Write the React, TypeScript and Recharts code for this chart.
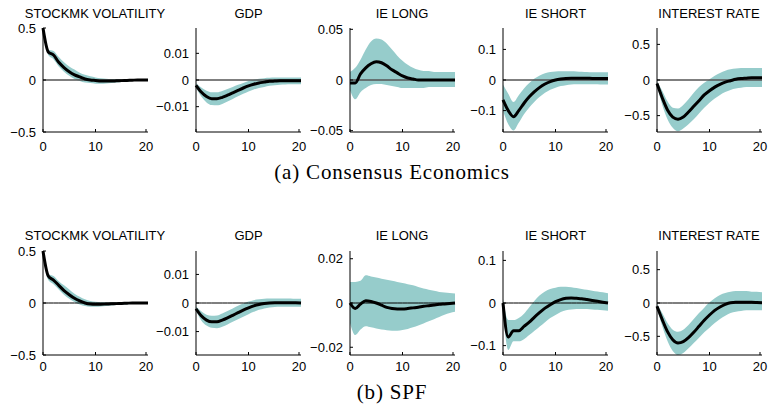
import { ComposedChart, Area, Line, XAxis, YAxis } from 'recharts';

const horizons = [0, 1, 2, 3, 4, 5, 6, 7, 8, 9, 10, 11, 12, 13, 14, 15, 16, 17, 18, 19, 20];
const titles = ['STOCKMK VOLATILITY', 'GDP', 'IE LONG', 'IE SHORT', 'INTEREST RATE'];
const xTicks = [0, 10, 20];

// (a) Consensus Economics
const ceVolMid = [0.5, 0.27, 0.24, 0.17, 0.12, 0.08, 0.05, 0.03, 0.01, 0.0, -0.005, -0.01, -0.01, -0.01, -0.008, -0.006, -0.004, -0.002, 0.0, 0.0, 0.0];
const ceVolLo = [0.5, 0.24, 0.2, 0.13, 0.08, 0.04, 0.01, -0.01, -0.025, -0.03, -0.035, -0.035, -0.033, -0.03, -0.025, -0.02, -0.015, -0.01, -0.008, -0.005, -0.005];
const ceVolHi = [0.5, 0.29, 0.28, 0.22, 0.17, 0.13, 0.1, 0.07, 0.05, 0.035, 0.025, 0.018, 0.013, 0.01, 0.008, 0.007, 0.006, 0.005, 0.005, 0.005, 0.005];

const ceGdpMid = [-0.002, -0.0045, -0.0062, -0.007, -0.007, -0.0065, -0.0057, -0.0048, -0.0039, -0.003, -0.0022, -0.0016, -0.0011, -0.0008, -0.0005, -0.0004, -0.0003, -0.0003, -0.0003, -0.0003, -0.0003];
const ceGdpLo = [-0.0028, -0.0062, -0.0084, -0.0094, -0.0095, -0.009, -0.0081, -0.0071, -0.0061, -0.0052, -0.0043, -0.0036, -0.003, -0.0026, -0.0022, -0.002, -0.0018, -0.0017, -0.0016, -0.0016, -0.0016];
const ceGdpHi = [-0.0012, -0.0028, -0.004, -0.0046, -0.0046, -0.0041, -0.0034, -0.0026, -0.0018, -0.0011, -0.0004, 0.0001, 0.0005, 0.0007, 0.0008, 0.0009, 0.0009, 0.0009, 0.0009, 0.0009, 0.0009];

const ceIeLongMid = [-0.003, -0.003, 0.006, 0.012, 0.016, 0.018, 0.017, 0.014, 0.01, 0.007, 0.004, 0.002, 0.001, 0.0, 0.0, 0.0, 0.0, 0.0, 0.0, 0.0, 0.0];
const ceIeLongLo = [-0.01, -0.019, -0.012, -0.008, -0.005, -0.004, -0.004, -0.005, -0.006, -0.007, -0.008, -0.008, -0.008, -0.008, -0.008, -0.007, -0.007, -0.007, -0.007, -0.007, -0.007];
const ceIeLongHi = [0.008, 0.012, 0.02, 0.03, 0.038, 0.041, 0.04, 0.036, 0.03, 0.024, 0.019, 0.015, 0.012, 0.01, 0.009, 0.009, 0.008, 0.008, 0.008, 0.008, 0.008];

const ceIeShortMid = [-0.065, -0.1, -0.12, -0.1, -0.076, -0.055, -0.038, -0.024, -0.013, -0.005, 0.0, 0.003, 0.005, 0.006, 0.006, 0.006, 0.006, 0.005, 0.005, 0.005, 0.005];
const ceIeShortLo = [-0.1, -0.145, -0.165, -0.14, -0.112, -0.09, -0.071, -0.055, -0.042, -0.032, -0.025, -0.02, -0.017, -0.015, -0.014, -0.014, -0.014, -0.014, -0.014, -0.015, -0.015];
const ceIeShortHi = [-0.015, -0.045, -0.072, -0.05, -0.028, -0.01, 0.005, 0.015, 0.022, 0.026, 0.028, 0.029, 0.029, 0.029, 0.028, 0.027, 0.026, 0.025, 0.025, 0.025, 0.025];

const ceRateMid = [-0.05, -0.25, -0.42, -0.52, -0.55, -0.52, -0.45, -0.37, -0.29, -0.21, -0.15, -0.1, -0.06, -0.03, -0.01, 0.01, 0.02, 0.025, 0.03, 0.03, 0.03];
const ceRateLo = [-0.08, -0.35, -0.55, -0.67, -0.72, -0.68, -0.62, -0.55, -0.47, -0.39, -0.32, -0.26, -0.21, -0.17, -0.14, -0.12, -0.11, -0.1, -0.1, -0.1, -0.1];
const ceRateHi = [-0.02, -0.15, -0.3, -0.39, -0.4, -0.35, -0.27, -0.18, -0.1, -0.04, 0.01, 0.06, 0.1, 0.13, 0.15, 0.16, 0.17, 0.17, 0.17, 0.17, 0.17];

// (b) SPF
const spfVolMid = [0.5, 0.26, 0.22, 0.17, 0.12, 0.08, 0.045, 0.02, 0.0, -0.01, -0.012, -0.012, -0.01, -0.008, -0.006, -0.004, -0.002, 0.0, 0.0, 0.0, 0.0];
const spfVolLo = [0.5, 0.22, 0.18, 0.13, 0.08, 0.04, 0.01, -0.015, -0.03, -0.035, -0.035, -0.033, -0.03, -0.025, -0.02, -0.015, -0.012, -0.008, -0.006, -0.005, -0.005];
const spfVolHi = [0.5, 0.28, 0.26, 0.21, 0.17, 0.13, 0.09, 0.06, 0.035, 0.02, 0.012, 0.008, 0.006, 0.005, 0.005, 0.005, 0.005, 0.005, 0.005, 0.005, 0.005];

const spfGdpMid = [-0.002, -0.0045, -0.006, -0.0066, -0.0066, -0.006, -0.0052, -0.0043, -0.0034, -0.0025, -0.0017, -0.001, -0.0005, -0.0002, 0.0, 0.0001, 0.0001, 0.0001, 0.0001, 0.0001, 0.0];
const spfGdpLo = [-0.0028, -0.0061, -0.0079, -0.0087, -0.0088, -0.0083, -0.0075, -0.0066, -0.0057, -0.0048, -0.0039, -0.0031, -0.0024, -0.0019, -0.0016, -0.0014, -0.0013, -0.0013, -0.0013, -0.0013, -0.0013];
const spfGdpHi = [-0.0012, -0.0029, -0.0041, -0.0045, -0.0044, -0.0037, -0.0028, -0.0019, -0.001, -0.0002, 0.0005, 0.001, 0.0013, 0.0015, 0.0016, 0.0016, 0.0016, 0.0016, 0.0016, 0.0015, 0.0015];

const spfIeLongMid = [0.0, -0.0025, -0.0005, 0.001, 0.0007, 0.0, -0.001, -0.002, -0.0025, -0.0027, -0.0027, -0.0025, -0.0022, -0.0019, -0.0015, -0.0012, -0.0009, -0.0006, -0.0004, -0.0002, 0.0];
const spfIeLongLo = [-0.009, -0.0145, -0.012, -0.0105, -0.011, -0.0115, -0.012, -0.0123, -0.0125, -0.0125, -0.0122, -0.0117, -0.011, -0.0102, -0.0093, -0.0083, -0.0073, -0.0063, -0.0053, -0.0045, -0.004];
const spfIeLongHi = [0.0095, 0.0095, 0.01, 0.0125, 0.012, 0.0115, 0.011, 0.0105, 0.01, 0.0095, 0.009, 0.0085, 0.008, 0.0072, 0.0065, 0.006, 0.0055, 0.005, 0.0047, 0.0045, 0.0043];

const spfIeShortMid = [0.0, -0.08, -0.065, -0.065, -0.055, -0.045, -0.033, -0.022, -0.012, -0.004, 0.003, 0.008, 0.011, 0.012, 0.011, 0.01, 0.008, 0.006, 0.004, 0.002, 0.0];
const spfIeShortLo = [-0.02, -0.11, -0.09, -0.09, -0.085, -0.075, -0.065, -0.055, -0.045, -0.035, -0.028, -0.021, -0.017, -0.015, -0.014, -0.014, -0.014, -0.015, -0.016, -0.017, -0.018];
const spfIeShortHi = [0.01, -0.04, -0.04, -0.035, -0.025, -0.01, 0.005, 0.018, 0.027, 0.033, 0.036, 0.038, 0.038, 0.037, 0.035, 0.033, 0.031, 0.029, 0.027, 0.025, 0.023];

const spfRateMid = [-0.05, -0.25, -0.43, -0.55, -0.6, -0.58, -0.52, -0.44, -0.35, -0.26, -0.18, -0.11, -0.06, -0.02, 0.005, 0.01, 0.01, 0.01, 0.01, 0.008, 0.005];
const spfRateLo = [-0.08, -0.35, -0.57, -0.72, -0.78, -0.75, -0.68, -0.6, -0.52, -0.44, -0.37, -0.3, -0.24, -0.19, -0.15, -0.13, -0.12, -0.11, -0.11, -0.11, -0.11];
const spfRateHi = [-0.02, -0.15, -0.3, -0.4, -0.43, -0.4, -0.33, -0.24, -0.15, -0.07, 0.01, 0.07, 0.12, 0.15, 0.17, 0.18, 0.18, 0.18, 0.17, 0.17, 0.16];

const topRow = [
  { mid: ceVolMid, lo: ceVolLo, hi: ceVolHi, domain: [-0.5, 0.5], ticks: [-0.5, 0, 0.5] },
  { mid: ceGdpMid, lo: ceGdpLo, hi: ceGdpHi, domain: [-0.0195, 0.0195], ticks: [-0.01, 0, 0.01] },
  { mid: ceIeLongMid, lo: ceIeLongLo, hi: ceIeLongHi, domain: [-0.0513, 0.0513], ticks: [-0.05, 0, 0.05] },
  { mid: ceIeShortMid, lo: ceIeShortLo, hi: ceIeShortHi, domain: [-0.17, 0.17], ticks: [-0.1, 0, 0.1] },
  { mid: ceRateMid, lo: ceRateLo, hi: ceRateHi, domain: [-0.73, 0.73], ticks: [-0.5, 0, 0.5] },
];

const bottomRow = [
  { mid: spfVolMid, lo: spfVolLo, hi: spfVolHi, domain: [-0.5, 0.5], ticks: [-0.5, 0, 0.5] },
  { mid: spfGdpMid, lo: spfGdpLo, hi: spfGdpHi, domain: [-0.0182, 0.0182], ticks: [-0.01, 0, 0.01] },
  { mid: spfIeLongMid, lo: spfIeLongLo, hi: spfIeLongHi, domain: [-0.0235, 0.0235], ticks: [-0.02, 0, 0.02] },
  { mid: spfIeShortMid, lo: spfIeShortLo, hi: spfIeShortHi, domain: [-0.122, 0.122], ticks: [-0.1, 0, 0.1] },
  { mid: spfRateMid, lo: spfRateLo, hi: spfRateHi, domain: [-0.78, 0.78], ticks: [-0.5, 0, 0.5] },
];

const FONT = '"Liberation Sans", Arial, Helvetica, sans-serif';
const SERIF = '"Liberation Serif", "Times New Roman", serif';
const BAND = '#96cccb';
const PW = 105;
const PH = 104;
const YW = 50;
const TOPPAD = 12;
const lefts = [42.5, 196, 349.5, 503, 656.5];

const fmt = (v: number) => String(v).replace('-', '\u2212');

function XTick(props: any) {
  const { x, y, payload, gap } = props;
  return (
    <g>
      <line x1={x} x2={x} y1={y} y2={y - 3} stroke="#000" strokeWidth={1} />
      <text x={x} y={y + gap} textAnchor="middle" dominantBaseline="central" fontSize={13} fontFamily={FONT} fill="#000">
        {payload.value}
      </text>
    </g>
  );
}

function YTick(props: any) {
  const { x, y, payload } = props;
  return (
    <g>
      <line x1={x} x2={x + 3} y1={y} y2={y} stroke="#000" strokeWidth={1} />
      <text x={x - 7} y={y} textAnchor="end" dominantBaseline="central" fontSize={13} fontFamily={FONT} fill="#000">
        {fmt(payload.value)}
      </text>
    </g>
  );
}

function Panel({ cfg, left, top, zeroColor, zeroWidth, gap }: any) {
  const rows = horizons.map((h, i) => ({ h, mid: cfg.mid[i], band: [cfg.lo[i], cfg.hi[i]], zero: 0 }));
  const w = PW + YW + 6;
  const h = PH + 24 + TOPPAD;
  return (
    <div style={{ position: 'absolute', left: left - YW, top: top - TOPPAD, width: w, height: h }}>
      <ComposedChart width={w} height={h} data={rows} margin={{ top: TOPPAD, right: 6, left: 0, bottom: 0 }}>
        <XAxis
          dataKey="h"
          type="number"
          domain={[0, 20]}
          ticks={xTicks}
          height={24}
          tickSize={0}
          tickMargin={0}
          axisLine={{ stroke: '#000', strokeWidth: 1 }}
          tickLine={false}
          tick={<XTick gap={gap} />}
        />
        <YAxis
          type="number"
          domain={cfg.domain}
          ticks={cfg.ticks}
          allowDataOverflow
          width={YW}
          tickSize={0}
          tickMargin={0}
          axisLine={{ stroke: '#000', strokeWidth: 1 }}
          tickLine={false}
          tick={<YTick />}
        />
        <Area dataKey="band" type="monotone" fill={BAND} fillOpacity={1} stroke="none" isAnimationActive={false} />
        <Line dataKey="zero" stroke={zeroColor} strokeWidth={zeroWidth} dot={false} isAnimationActive={false} />
        <Line dataKey="mid" type="monotone" stroke="#000" strokeWidth={3} dot={false} isAnimationActive={false} />
      </ComposedChart>
    </div>
  );
}

export default function App() {
  return (
    <div style={{ position: 'absolute', left: 0, top: 0, width: 769, height: 406, background: '#fff', overflow: 'hidden' }}>
      <svg width={769} height={406} style={{ position: 'absolute', left: 0, top: 0 }}>
        {titles.map((t, i) => (
          <text key={'t' + i} x={lefts[i] + PW / 2} y={18} textAnchor="middle" fontSize={13} fontFamily={FONT} fill="#000">
            {t}
          </text>
        ))}
        {titles.map((t, i) => (
          <text key={'b' + i} x={lefts[i] + PW / 2} y={240} textAnchor="middle" fontSize={13} fontFamily={FONT} fill="#000">
            {t}
          </text>
        ))}
        <text x={392} y={179} textAnchor="middle" fontSize={21} letterSpacing={0.8} fontFamily={SERIF} fill="#000">
          (a) Consensus Economics
        </text>
        <text x={392} y={399} textAnchor="middle" fontSize={21} letterSpacing={0.8} fontFamily={SERIF} fill="#000">
          (b) SPF
        </text>
      </svg>
      {topRow.map((cfg, i) => (
        <Panel key={'top' + i} cfg={cfg} left={lefts[i]} top={28} zeroColor="#555" zeroWidth={1.6} gap={14} />
      ))}
      {bottomRow.map((cfg, i) => (
        <Panel key={'bot' + i} cfg={cfg} left={lefts[i]} top={251} zeroColor="#000" zeroWidth={1} gap={11} />
      ))}
    </div>
  );
}
